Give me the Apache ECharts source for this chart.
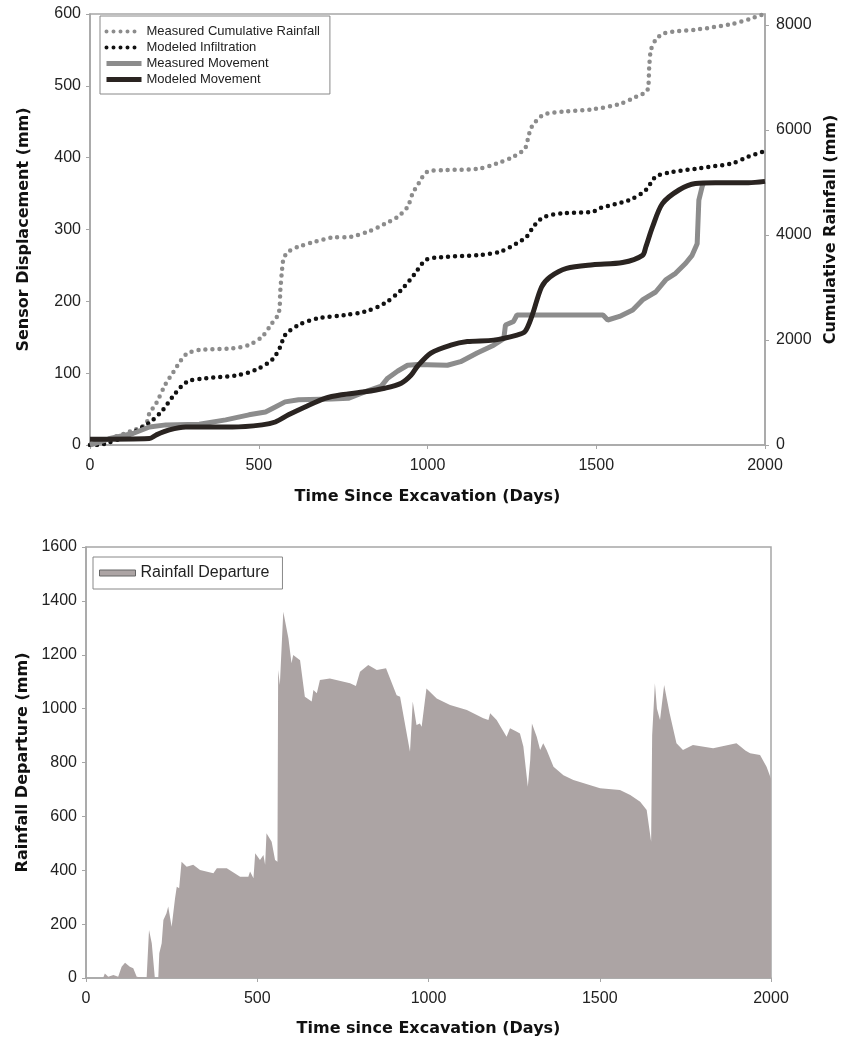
<!DOCTYPE html>
<html lang="en">
<head>
    <meta charset="UTF-8">
    <script src="https://cdn.jsdelivr.net/npm/echarts@6/dist/echarts.min.js"></script>
    <title>Sensor displacement and rainfall departure</title>
    <style>
        html, body { margin: 0; padding: 0; background: #fff; }
        #main { width: 847px; height: 1042px; }
    </style>
</head>
<body>
    <div id="main"></div>
    <script>
        // top chart: cumulative rainfall (right axis, mm)
        var rainDays = [0, 60, 120, 165, 176, 196, 225, 245, 270, 289, 324, 421, 471, 510, 539, 559, 564, 569, 574, 588, 618, 667, 716, 774, 824, 873, 912, 941, 956, 971, 1000, 1059, 1147, 1206, 1255, 1289, 1299, 1309, 1343, 1402, 1490, 1569, 1618, 1652, 1657, 1662, 1676, 1701, 1804, 1902, 1961, 1995];
        var rainMm = [0, 130, 260, 400, 604, 794, 1175, 1366, 1619, 1747, 1810, 1842, 1905, 2063, 2318, 2508, 2953, 3334, 3557, 3683, 3778, 3873, 3950, 3969, 4064, 4210, 4350, 4540, 4795, 4953, 5207, 5239, 5258, 5366, 5492, 5652, 5873, 6064, 6287, 6350, 6395, 6496, 6635, 6763, 7207, 7525, 7715, 7843, 7919, 8020, 8128, 8205];

        // modeled infiltration (right axis, mm)
        var infDays = [0, 20, 49, 100, 150, 186, 216, 245, 270, 294, 343, 441, 490, 539, 564, 578, 618, 676, 755, 814, 873, 922, 961, 995, 1039, 1157, 1216, 1265, 1294, 1314, 1343, 1402, 1490, 1510, 1598, 1647, 1676, 1716, 1804, 1902, 1951, 1995];
        var infMm = [0, 0, 32, 150, 320, 476, 667, 920, 1111, 1225, 1270, 1334, 1429, 1619, 1873, 2096, 2286, 2413, 2477, 2540, 2699, 2953, 3250, 3525, 3576, 3620, 3683, 3842, 3969, 4159, 4337, 4414, 4445, 4509, 4667, 4858, 5112, 5188, 5271, 5366, 5492, 5588];

        // measured movement (left axis, mm)
        var measDays = [0, 59, 127, 176, 225, 324, 402, 471, 520, 549, 578, 618, 716, 765, 814, 863, 882, 912, 941, 971, 1059, 1098, 1147, 1196, 1226, 1231, 1255, 1265, 1363, 1520, 1534, 1569, 1608, 1637, 1676, 1706, 1735, 1765, 1784, 1799, 1804, 1814, 1818];
        var measMm = [0, 9, 16, 25, 28, 29, 35, 42, 46, 53, 60, 63, 64, 65, 74, 82, 93, 103, 111, 112, 111, 116, 128, 139, 148, 167, 172, 181, 181, 181, 174, 179, 188, 202, 213, 230, 239, 253, 264, 280, 341, 360, 365];

        // modeled movement (left axis, mm)
        var modDays = [0, 176, 196, 235, 284, 422, 510, 549, 588, 637, 696, 745, 814, 873, 922, 951, 971, 1010, 1069, 1118, 1196, 1265, 1289, 1309, 1338, 1363, 1412, 1490, 1578, 1637, 1647, 1667, 1696, 1745, 1794, 1853, 1951, 2000];
        var modMm = [8, 9, 14, 21, 25, 25, 28, 32, 42, 53, 65, 70, 74, 79, 86, 97, 110, 128, 139, 144, 146, 153, 158, 179, 220, 234, 246, 251, 254, 264, 276, 304, 336, 355, 364, 365, 365, 367];

        // bottom chart: rainfall departure (mm)
        var depDays = [0, 50, 55, 65, 80, 94, 104, 114, 128, 138, 148, 152, 177, 184, 192, 201, 211, 214, 221, 226, 235, 240, 250, 260, 265, 272, 279, 294, 313, 333, 372, 382, 411, 450, 474, 479, 489, 494, 508, 518, 523, 527, 542, 552, 559, 561, 566, 576, 591, 600, 605, 625, 639, 659, 664, 674, 683, 712, 771, 788, 800, 824, 849, 876, 907, 917, 946, 954, 965, 975, 980, 994, 1024, 1063, 1112, 1160, 1175, 1180, 1199, 1228, 1238, 1258, 1267, 1277, 1290, 1297, 1302, 1316, 1326, 1335, 1345, 1365, 1394, 1423, 1501, 1559, 1589, 1618, 1637, 1650, 1653, 1661, 1667, 1676, 1688, 1704, 1724, 1743, 1772, 1831, 1899, 1910, 1925, 1939, 1968, 1987, 2000];
        var depMm = [0, 0, 17, 5, 11, 5, 42, 57, 42, 36, 5, 0, 0, 178, 129, 0, 0, 92, 129, 215, 240, 265, 190, 296, 339, 333, 432, 413, 420, 401, 389, 407, 407, 376, 376, 395, 370, 463, 438, 457, 420, 537, 506, 438, 432, 1143, 1088, 1360, 1261, 1168, 1199, 1180, 1044, 1026, 1069, 1057, 1106, 1112, 1094, 1084, 1137, 1162, 1143, 1150, 1050, 1044, 840, 1026, 939, 945, 933, 1075, 1038, 1013, 995, 964, 958, 983, 958, 896, 927, 914, 908, 859, 710, 809, 945, 896, 846, 871, 846, 784, 753, 735, 704, 698, 679, 654, 624, 506, 900, 1094, 1000, 958, 1088, 983, 871, 846, 865, 853, 871, 860, 845, 834, 828, 784, 740];

        function pairs(xs, ys) {
            var out = [];
            for (var i = 0; i < xs.length; i++) {
                out.push([xs[i], ys[i]]);
            }
            return out;
        }

        var FONT = '"Liberation Sans", Arial, sans-serif';
        var TITLE_FONT = '"DejaVu Sans", Verdana, sans-serif';
        var AXIS_GRAY = '#a6a6a6';
        var nameStyle = { color: '#111', fontSize: 16, fontWeight: 'bold', fontFamily: TITLE_FONT };
        function plain(v) { return String(v); }
        function tickLabels(margin, extra) {
            var s = { color: '#222', fontSize: 16, fontFamily: FONT, margin: margin, formatter: plain };
            for (var k in extra) s[k] = extra[k];
            return s;
        }

        function valueAxis(extra) {
            var base = {
                type: 'value',
                nameLocation: 'middle',
                nameTextStyle: nameStyle,
                axisLine: { show: true, lineStyle: { color: AXIS_GRAY, width: 1.5 } },
                axisTick: { show: true, length: 4, lineStyle: { color: AXIS_GRAY } },
                splitLine: { show: false }
            };
            for (var k in extra) base[k] = extra[k];
            return base;
        }

        var chart = echarts.init(document.getElementById('main'));
        var option = {
            backgroundColor: '#fff',
            animation: false,
            textStyle: { fontFamily: FONT },
            grid: [
                { left: 90, top: 14, width: 680, height: 431, show: true, borderColor: AXIS_GRAY, borderWidth: 1.5 },
                { left: 86, top: 547, width: 685, height: 431, show: true, borderColor: AXIS_GRAY, borderWidth: 1.5 }
            ],
            legend: [
                {
                    orient: 'vertical',
                    left: 100,
                    top: 16,
                    padding: [9, 10, 8, 4],
                    borderColor: '#888',
                    borderWidth: 1,
                    itemWidth: 35,
                    itemHeight: 6,
                    itemGap: 3,
                    textStyle: { color: '#222', fontSize: 13, lineHeight: 13, fontFamily: FONT },
                    data: [
                        { name: 'Measured Cumulative Rainfall', itemStyle: { opacity: 0 }, lineStyle: { width: 4, type: [0, 7], cap: 'round', color: '#8c8c8c' } },
                        { name: 'Modeled Infiltration', itemStyle: { opacity: 0 }, lineStyle: { width: 4, type: [0, 7], cap: 'round', color: '#111' } },
                        { name: 'Measured Movement', itemStyle: { opacity: 0 }, lineStyle: { width: 5, color: '#8c8c8c' } },
                        { name: 'Modeled Movement', itemStyle: { opacity: 0 }, lineStyle: { width: 5, color: '#2a2421' } }
                    ]
                },
                {
                    left: 93,
                    top: 557,
                    padding: [8, 13, 8, 6],
                    borderColor: '#888',
                    borderWidth: 1,
                    itemWidth: 36,
                    itemHeight: 6,
                    textStyle: { color: '#222', fontSize: 16, fontFamily: FONT },
                    data: [
                        { name: 'Rainfall Departure', icon: 'rect', itemStyle: { color: '#aca4a4', borderColor: '#666', borderWidth: 1 } }
                    ]
                }
            ],
            xAxis: [
                valueAxis({
                    gridIndex: 0, min: 0, max: 2000, interval: 500,
                    name: 'Time Since Excavation (Days)', nameGap: 44,
                    axisLabel: tickLabels(13)
                }),
                valueAxis({
                    gridIndex: 1, min: 0, max: 2000, interval: 500,
                    name: 'Time since Excavation (Days)', nameGap: 43,
                    axisLabel: tickLabels(13)
                })
            ],
            yAxis: [
                valueAxis({
                    gridIndex: 0, min: 0, max: 600, interval: 100,
                    name: 'Sensor Displacement (mm)', nameGap: 58, nameRotate: 90,
                    axisLabel: tickLabels(9)
                }),
                valueAxis({
                    gridIndex: 0, position: 'right', min: 0, max: 8210, interval: 2000,
                    name: 'Cumulative Rainfall (mm)', nameGap: 58, nameRotate: 90,
                    axisLabel: tickLabels(11, { showMaxLabel: false })
                }),
                valueAxis({
                    gridIndex: 1, min: 0, max: 1600, interval: 200,
                    name: 'Rainfall Departure (mm)', nameGap: 55, nameRotate: 90,
                    axisLabel: tickLabels(9)
                })
            ],
            series: [
                {
                    name: 'Measured Cumulative Rainfall',
                    type: 'line',
                    xAxisIndex: 0, yAxisIndex: 1,
                    symbol: 'none',
                    smooth: 0.3,
                    lineStyle: { color: '#8c8c8c', width: 4.5, type: [0, 7], cap: 'round' },
                    itemStyle: { color: '#8c8c8c' },
                    data: pairs(rainDays, rainMm)
                },
                {
                    name: 'Modeled Infiltration',
                    type: 'line',
                    xAxisIndex: 0, yAxisIndex: 1,
                    symbol: 'none',
                    smooth: 0.3,
                    lineStyle: { color: '#111', width: 4.5, type: [0, 7], cap: 'round' },
                    itemStyle: { color: '#111' },
                    data: pairs(infDays, infMm)
                },
                {
                    name: 'Measured Movement',
                    type: 'line',
                    xAxisIndex: 0, yAxisIndex: 0,
                    symbol: 'none',
                    lineStyle: { color: '#8c8c8c', width: 5 },
                    itemStyle: { color: '#8c8c8c' },
                    data: pairs(measDays, measMm)
                },
                {
                    name: 'Modeled Movement',
                    type: 'line',
                    xAxisIndex: 0, yAxisIndex: 0,
                    symbol: 'none',
                    smooth: 0.3,
                    lineStyle: { color: '#2a2421', width: 5 },
                    itemStyle: { color: '#2a2421' },
                    data: pairs(modDays, modMm)
                },
                {
                    name: 'Rainfall Departure',
                    type: 'line',
                    xAxisIndex: 1, yAxisIndex: 2,
                    symbol: 'none',
                    lineStyle: { width: 0 },
                    itemStyle: { color: '#aca4a4' },
                    areaStyle: { color: '#aca4a4', opacity: 1 },
                    data: pairs(depDays, depMm)
                }
            ]
        };
        chart.setOption(option);
    </script>
</body>
</html>
